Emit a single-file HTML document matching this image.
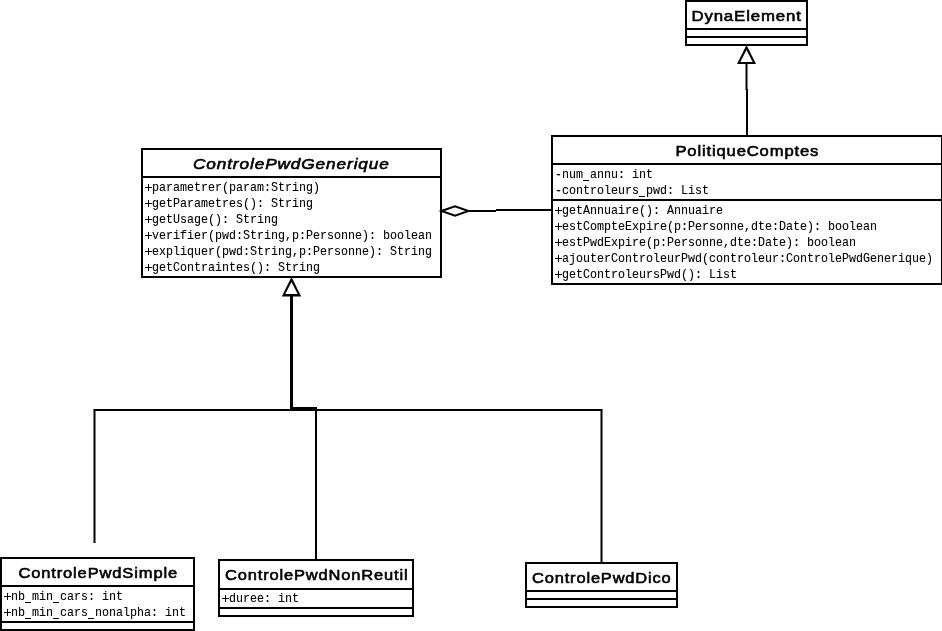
<!DOCTYPE html>
<html><head><meta charset="utf-8">
<style>
html,body{margin:0;padding:0;background:#fff;width:942px;height:631px;overflow:hidden}
svg{display:block;will-change:transform}
.t{font-family:"Liberation Sans",sans-serif;font-weight:normal;font-size:15.5px;letter-spacing:0.8px;fill:#000;stroke:#000;stroke-width:0.6}
.ti{font-family:"Liberation Sans",sans-serif;font-weight:normal;font-style:italic;font-size:15.5px;letter-spacing:0.8px;fill:#000;stroke:#000;stroke-width:0.6}
.m{font-family:"Liberation Mono",monospace;font-size:13.0px;fill:#000;stroke:#000;stroke-width:0.1}
</style></head>
<body>
<svg width="942" height="631" viewBox="0 0 942 631">
<rect x="0" y="0" width="942" height="631" fill="#fff"/>

<g fill="#000" shape-rendering="crispEdges">
<rect x="685" y="0" width="123" height="2"/>
<rect x="685" y="44" width="123" height="2"/>
<rect x="685" y="0" width="2" height="46"/>
<rect x="806" y="0" width="2" height="46"/>
<rect x="685" y="28" width="123" height="2"/>
<rect x="685" y="36" width="123" height="2"/>
<rect x="551" y="135" width="392" height="2"/>
<rect x="551" y="283" width="392" height="2"/>
<rect x="551" y="135" width="2" height="150"/>
<rect x="941" y="135" width="2" height="150"/>
<rect x="551" y="163" width="392" height="2"/>
<rect x="551" y="199" width="392" height="2"/>
<rect x="141" y="148" width="301" height="2"/>
<rect x="141" y="276" width="301" height="2"/>
<rect x="141" y="148" width="2" height="130"/>
<rect x="440" y="148" width="2" height="130"/>
<rect x="141" y="176" width="301" height="2"/>
<rect x="0" y="557" width="195" height="2"/>
<rect x="0" y="629" width="195" height="2"/>
<rect x="0" y="557" width="2" height="74"/>
<rect x="193" y="557" width="2" height="74"/>
<rect x="0" y="585" width="195" height="2"/>
<rect x="0" y="621" width="195" height="2"/>
<rect x="218" y="559" width="196" height="2"/>
<rect x="218" y="615" width="196" height="2"/>
<rect x="218" y="559" width="2" height="58"/>
<rect x="412" y="559" width="2" height="58"/>
<rect x="218" y="588" width="196" height="2"/>
<rect x="218" y="607" width="196" height="2"/>
<rect x="525" y="562" width="153" height="2"/>
<rect x="525" y="606" width="153" height="2"/>
<rect x="525" y="562" width="2" height="46"/>
<rect x="676" y="562" width="2" height="46"/>
<rect x="525" y="590" width="153" height="2"/>
<rect x="525" y="598" width="153" height="2"/>
<rect x="746" y="89" width="2" height="46"/>
<rect x="290" y="296" width="3" height="114"/>
<rect x="290" y="407" width="27" height="3"/>
<rect x="315" y="410" width="2" height="149"/>
<rect x="496" y="209" width="55" height="2"/>
</g>
<g fill="#000">
<rect x="745.5" y="64" width="2" height="26"/>
<rect x="93.5" y="409" width="509" height="2"/>
<rect x="93.5" y="410" width="2" height="133"/>
<rect x="600.5" y="410" width="2" height="152"/>
<rect x="468" y="210" width="28" height="2"/>
</g>
<polygon points="746.5,45 737,64 756,64" fill="#000"/>
<polygon points="746.5,50 740.3,62 752.7,62" fill="#fff"/>
<polygon points="291.5,277 281.8,296.5 301.2,296.5" fill="#000"/>
<polygon points="291.5,282 285.3,294 297.7,294" fill="#fff"/>
<polygon points="441.5,211 455,206.2 468.5,211 455,215.8" fill="#fff" stroke="#000" stroke-width="2"/>

<text class="t" x="691.4" y="21" textLength="110.4" lengthAdjust="spacingAndGlyphs">DynaElement</text>
<text class="t" x="675.4" y="156" textLength="143.79999999999998" lengthAdjust="spacingAndGlyphs">PolitiqueComptes</text>
<text class="ti" x="192.9" y="169" textLength="196.9" lengthAdjust="spacingAndGlyphs">ControlePwdGenerique</text>
<text class="t" x="18.4" y="577.5" textLength="159.6" lengthAdjust="spacingAndGlyphs">ControlePwdSimple</text>
<text class="t" x="225.0" y="580" textLength="183.5" lengthAdjust="spacingAndGlyphs">ControlePwdNonReutil</text>
<text class="t" x="532.0" y="583" textLength="139.59999999999994" lengthAdjust="spacingAndGlyphs">ControlePwdDico</text>
<rect x="583" y="180" width="6" height="1" fill="#000" shape-rendering="crispEdges"/>
<text class="m" x="554.9" y="178" textLength="98.0" lengthAdjust="spacingAndGlyphs" xml:space="preserve">-num annu: int</text>
<rect x="639" y="196" width="6" height="1" fill="#000" shape-rendering="crispEdges"/>
<text class="m" x="554.9" y="194" textLength="154.0" lengthAdjust="spacingAndGlyphs" xml:space="preserve">-controleurs pwd: List</text>
<rect x="555" y="210" width="7" height="1" fill="#000" shape-rendering="crispEdges"/>
<rect x="558" y="207" width="1" height="7" fill="#000" shape-rendering="crispEdges"/>
<text class="m" x="561.9" y="214" textLength="161.0" lengthAdjust="spacingAndGlyphs" xml:space="preserve">getAnnuaire(): Annuaire</text>
<rect x="555" y="226" width="7" height="1" fill="#000" shape-rendering="crispEdges"/>
<rect x="558" y="223" width="1" height="7" fill="#000" shape-rendering="crispEdges"/>
<text class="m" x="561.9" y="230" textLength="315.0" lengthAdjust="spacingAndGlyphs" xml:space="preserve">estCompteExpire(p:Personne,dte:Date): boolean</text>
<rect x="555" y="242" width="7" height="1" fill="#000" shape-rendering="crispEdges"/>
<rect x="558" y="239" width="1" height="7" fill="#000" shape-rendering="crispEdges"/>
<text class="m" x="561.9" y="246" textLength="294.0" lengthAdjust="spacingAndGlyphs" xml:space="preserve">estPwdExpire(p:Personne,dte:Date): boolean</text>
<rect x="555" y="258" width="7" height="1" fill="#000" shape-rendering="crispEdges"/>
<rect x="558" y="255" width="1" height="7" fill="#000" shape-rendering="crispEdges"/>
<text class="m" x="561.9" y="262" textLength="371.0" lengthAdjust="spacingAndGlyphs" xml:space="preserve">ajouterControleurPwd(controleur:ControlePwdGenerique)</text>
<rect x="555" y="274" width="7" height="1" fill="#000" shape-rendering="crispEdges"/>
<rect x="558" y="271" width="1" height="7" fill="#000" shape-rendering="crispEdges"/>
<text class="m" x="561.9" y="278" textLength="175.0" lengthAdjust="spacingAndGlyphs" xml:space="preserve">getControleursPwd(): List</text>
<rect x="145" y="187" width="7" height="1" fill="#000" shape-rendering="crispEdges"/>
<rect x="148" y="184" width="1" height="7" fill="#000" shape-rendering="crispEdges"/>
<text class="m" x="151.9" y="191" textLength="168.0" lengthAdjust="spacingAndGlyphs" xml:space="preserve">parametrer(param:String)</text>
<rect x="145" y="203" width="7" height="1" fill="#000" shape-rendering="crispEdges"/>
<rect x="148" y="200" width="1" height="7" fill="#000" shape-rendering="crispEdges"/>
<text class="m" x="151.9" y="207" textLength="161.0" lengthAdjust="spacingAndGlyphs" xml:space="preserve">getParametres(): String</text>
<rect x="145" y="219" width="7" height="1" fill="#000" shape-rendering="crispEdges"/>
<rect x="148" y="216" width="1" height="7" fill="#000" shape-rendering="crispEdges"/>
<text class="m" x="151.9" y="223" textLength="126.0" lengthAdjust="spacingAndGlyphs" xml:space="preserve">getUsage(): String</text>
<rect x="145" y="235" width="7" height="1" fill="#000" shape-rendering="crispEdges"/>
<rect x="148" y="232" width="1" height="7" fill="#000" shape-rendering="crispEdges"/>
<text class="m" x="151.9" y="239" textLength="280.0" lengthAdjust="spacingAndGlyphs" xml:space="preserve">verifier(pwd:String,p:Personne): boolean</text>
<rect x="145" y="251" width="7" height="1" fill="#000" shape-rendering="crispEdges"/>
<rect x="148" y="248" width="1" height="7" fill="#000" shape-rendering="crispEdges"/>
<text class="m" x="151.9" y="255" textLength="280.0" lengthAdjust="spacingAndGlyphs" xml:space="preserve">expliquer(pwd:String,p:Personne): String</text>
<rect x="145" y="267" width="7" height="1" fill="#000" shape-rendering="crispEdges"/>
<rect x="148" y="264" width="1" height="7" fill="#000" shape-rendering="crispEdges"/>
<text class="m" x="151.9" y="271" textLength="168.0" lengthAdjust="spacingAndGlyphs" xml:space="preserve">getContraintes(): String</text>
<rect x="4" y="596" width="7" height="1" fill="#000" shape-rendering="crispEdges"/>
<rect x="7" y="593" width="1" height="7" fill="#000" shape-rendering="crispEdges"/>
<rect x="25" y="602" width="6" height="1" fill="#000" shape-rendering="crispEdges"/>
<rect x="53" y="602" width="6" height="1" fill="#000" shape-rendering="crispEdges"/>
<text class="m" x="10.9" y="600" textLength="112.0" lengthAdjust="spacingAndGlyphs" xml:space="preserve">nb min cars: int</text>
<rect x="4" y="612" width="7" height="1" fill="#000" shape-rendering="crispEdges"/>
<rect x="7" y="609" width="1" height="7" fill="#000" shape-rendering="crispEdges"/>
<rect x="25" y="618" width="6" height="1" fill="#000" shape-rendering="crispEdges"/>
<rect x="53" y="618" width="6" height="1" fill="#000" shape-rendering="crispEdges"/>
<rect x="88" y="618" width="6" height="1" fill="#000" shape-rendering="crispEdges"/>
<text class="m" x="10.9" y="616" textLength="175.0" lengthAdjust="spacingAndGlyphs" xml:space="preserve">nb min cars nonalpha: int</text>
<rect x="222" y="598" width="7" height="1" fill="#000" shape-rendering="crispEdges"/>
<rect x="225" y="595" width="1" height="7" fill="#000" shape-rendering="crispEdges"/>
<text class="m" x="228.9" y="602" textLength="70.0" lengthAdjust="spacingAndGlyphs" xml:space="preserve">duree: int</text>
</svg>
</body></html>
